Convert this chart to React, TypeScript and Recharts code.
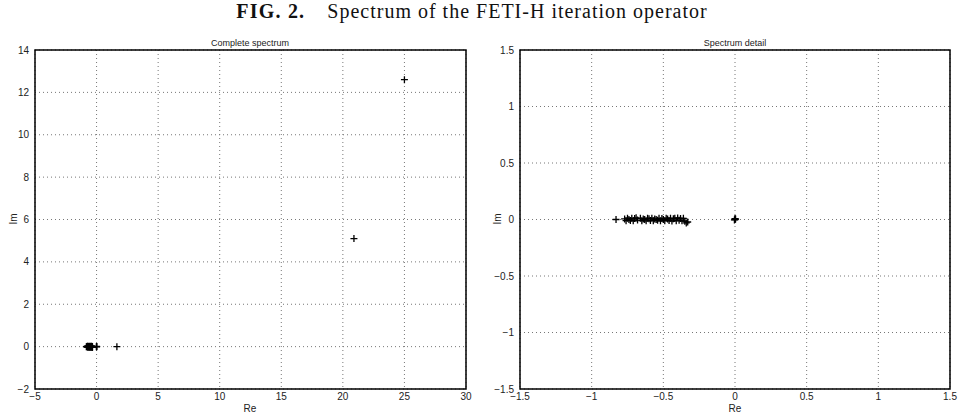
import React from "react";
import { ScatterChart, Scatter, XAxis, YAxis, CartesianGrid, ReferenceArea } from "recharts";

// Eigenvalue cluster (real, imaginary parts)
const clusterRe = [-0.83, -0.77, -0.76, -0.75, -0.74, -0.73, -0.72, -0.71, -0.7, -0.69, -0.68, -0.66, -0.65, -0.64, -0.63, -0.62, -0.61, -0.6, -0.59, -0.58, -0.57, -0.56, -0.55, -0.54, -0.53, -0.52, -0.51, -0.5, -0.49, -0.48, -0.47, -0.46, -0.45, -0.44, -0.43, -0.42, -0.41, -0.4, -0.39, -0.38, -0.37, -0.36, -0.35, -0.34, -0.33];
const clusterIm = [0, 0.005, -0.01, 0.012, 0, -0.008, 0.01, -0.012, 0.008, 0.015, -0.005, 0.01, -0.01, 0.005, 0, -0.012, 0.01, 0.006, -0.008, 0.012, -0.01, 0.004, 0, -0.006, 0.01, -0.012, 0.008, 0, -0.01, 0.012, 0.004, -0.008, 0.01, -0.014, 0.006, 0.01, -0.01, 0.014, -0.006, 0.008, -0.012, 0.01, -0.015, -0.03, -0.022];
// Eigenvalues at zero
const zeroRe = [0, 0.004, -0.004, 0];
const zeroIm = [0, 0.004, -0.004, 0.008];
// Isolated large eigenvalues
const outlierRe = [1.65, 20.9, 25];
const outlierIm = [0, 5.1, 12.6];

const leftXTicks = [-5, 0, 5, 10, 15, 20, 25, 30];
const leftYTicks = [-2, 0, 2, 4, 6, 8, 10, 12, 14];
const rightTicks = [-1.5, -1, -0.5, 0, 0.5, 1, 1.5];

const toPts = (re: number[], im: number[]) => re.map((x, i) => ({ x, y: im[i] }));
const detailPts = [...toPts(clusterRe, clusterIm), ...toPts(zeroRe, zeroIm)];
const completePts = [...detailPts, ...toPts(outlierRe, outlierIm)];

const Plus = (props: any) => {
  const { cx, cy } = props;
  if (cx == null || cy == null) return null;
  return (
    <path
      d={`M${cx - 3.5},${cy}h7M${cx},${cy - 3.5}v7`}
      stroke="#000"
      strokeWidth={1.3}
      fill="none"
    />
  );
};

const fmt = (v: number) => String(v).replace("-", "\u2212");
const tickStyle = { fontFamily: "Liberation Sans, Arial, sans-serif", fontSize: 10, fill: "#222" };
const smallText: React.CSSProperties = {
  position: "absolute",
  fontFamily: "Liberation Sans, Arial, sans-serif",
  fontSize: 10,
  lineHeight: "11px",
  color: "#222",
  whiteSpace: "nowrap",
};

function Panel(props: {
  data: { x: number; y: number }[];
  xDomain: [number, number];
  yDomain: [number, number];
  xTicks: number[];
  yTicks: number[];
  left: number;
  width: number;
  marginLeft: number;
  marginRight: number;
}) {
  const { data, xDomain, yDomain, xTicks, yTicks, left, width, marginLeft, marginRight } = props;
  return (
    <div style={{ position: "absolute", left, top: 0 }}>
      <ScatterChart
        width={width}
        height={417}
        margin={{ top: 50, right: marginRight, bottom: 8, left: marginLeft }}
      >
        <CartesianGrid stroke="#777" strokeDasharray="1 3" strokeWidth={1} />
        <XAxis
          type="number"
          dataKey="x"
          domain={xDomain}
          ticks={xTicks}
          allowDataOverflow
          tickFormatter={fmt}
          tick={tickStyle}
          tickLine={false}
          tickSize={2}
          axisLine={false}
          height={20}
          interval={0}
        />
        <YAxis
          type="number"
          dataKey="y"
          domain={yDomain}
          ticks={yTicks}
          allowDataOverflow
          tickFormatter={fmt}
          tick={tickStyle}
          tickLine={false}
          tickSize={4}
          axisLine={false}
          width={25}
          interval={0}
        />
        <ReferenceArea
          x1={xDomain[0]}
          x2={xDomain[1]}
          y1={yDomain[0]}
          y2={yDomain[1]}
          fill="none"
          fillOpacity={0}
          stroke="#000"
          strokeWidth={1.5}
          ifOverflow="visible"
        />
        <Scatter data={data} shape={Plus} isAnimationActive={false} />
      </ScatterChart>
    </div>
  );
}

export default function App() {
  return (
    <div style={{ position: "absolute", left: 0, top: 0, width: 959, height: 417, background: "#fff" }}>
      <div
        style={{
          position: "absolute",
          left: 0,
          width: 944,
          top: 1,
          textAlign: "center",
          fontFamily: "Liberation Serif, DejaVu Serif, serif",
          fontSize: 20,
          lineHeight: "20px",
          color: "#111",
          whiteSpace: "nowrap",
        }}
      >
        <b style={{ letterSpacing: 1.2 }}>FIG. 2.</b>
        <span style={{ marginLeft: 22, letterSpacing: 1 }}>Spectrum of the FETI-H iteration operator</span>
      </div>
      <Panel
        data={completePts}
        xDomain={[-5, 30]}
        yDomain={[-2, 14]}
        xTicks={leftXTicks}
        yTicks={leftYTicks}
        left={0}
        width={480}
        marginLeft={10}
        marginRight={14}
      />
      <Panel
        data={detailPts}
        xDomain={[-1.5, 1.5]}
        yDomain={[-1.5, 1.5]}
        xTicks={rightTicks}
        yTicks={rightTicks}
        left={480}
        width={479}
        marginLeft={15}
        marginRight={9}
      />
      <div style={{ ...smallText, fontSize: 9, left: 250, top: 38, transform: "translateX(-50%)" }}>Complete spectrum</div>
      <div style={{ ...smallText, fontSize: 9, left: 735, top: 38, transform: "translateX(-50%)" }}>Spectrum detail</div>
      <div style={{ ...smallText, left: 250, top: 403, transform: "translateX(-50%)" }}>Re</div>
      <div style={{ ...smallText, left: 735, top: 403, transform: "translateX(-50%)" }}>Re</div>
      <div style={{ ...smallText, left: 13, top: 219, transform: "translate(-50%, -50%) rotate(-90deg)" }}>Im</div>
      <div style={{ ...smallText, left: 497, top: 219, transform: "translate(-50%, -50%) rotate(-90deg)" }}>Im</div>
    </div>
  );
}
